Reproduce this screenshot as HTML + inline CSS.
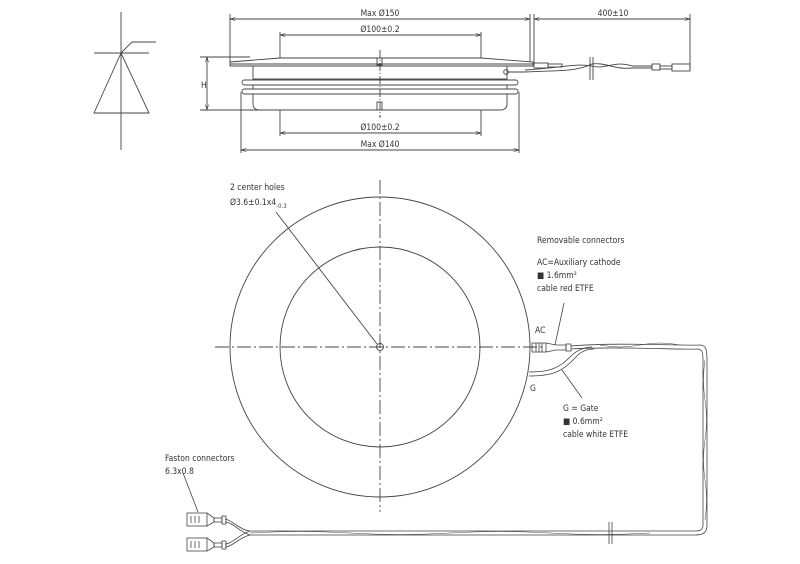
<!DOCTYPE html>
<html><head><meta charset="utf-8"><style>
html,body{margin:0;padding:0;background:#fff;}
svg{display:block;}
text{font-family:"DejaVu Sans Condensed","Liberation Sans",sans-serif;font-size:8.5px;fill:#333;}
</style></head><body>
<svg width="800" height="564" viewBox="0 0 800 564" xmlns="http://www.w3.org/2000/svg">
<defs>
<marker id="a" viewBox="0 0 10 10" refX="10" refY="5" markerWidth="8" markerHeight="6" orient="auto-start-reverse"><path d="M0,2 L10,5 L0,8" fill="none" stroke="#333" stroke-width="1"/></marker>
</defs>
<g stroke="#444" stroke-width="0.9" fill="none">
<!-- diode -->
<line x1="121" y1="12" x2="121" y2="150"/>
<line x1="94" y1="53" x2="149" y2="53"/>
<polygon points="121,53 94,113 149,113"/>
<polyline points="121,53 132,42 156,42"/>

<!-- top dims -->
<line x1="230" y1="19" x2="530" y2="19" marker-start="url(#a)" marker-end="url(#a)"/>
<line x1="230" y1="14" x2="230" y2="62"/>
<line x1="530" y1="14" x2="530" y2="62"/>
<line x1="534" y1="19" x2="690" y2="19" marker-start="url(#a)" marker-end="url(#a)"/>
<line x1="534" y1="14" x2="534" y2="64"/>
<line x1="690" y1="14" x2="690" y2="70"/>
<line x1="280" y1="35" x2="481" y2="35" marker-start="url(#a)" marker-end="url(#a)"/>
<line x1="280" y1="32" x2="280" y2="58"/>
<line x1="481" y1="32" x2="481" y2="58"/>
<line x1="280" y1="133" x2="481" y2="133" marker-start="url(#a)" marker-end="url(#a)"/>
<line x1="280" y1="110" x2="280" y2="136"/>
<line x1="481" y1="110" x2="481" y2="136"/>
<line x1="241" y1="150" x2="519" y2="150" marker-start="url(#a)" marker-end="url(#a)"/>
<line x1="241" y1="92" x2="241" y2="153"/>
<line x1="519" y1="92" x2="519" y2="153"/>
<line x1="207" y1="57" x2="207" y2="110" marker-start="url(#a)" marker-end="url(#a)"/>
<line x1="200" y1="57" x2="250" y2="57"/>
<line x1="200" y1="110" x2="262" y2="110"/>

<!-- side body -->
<path d="M230,62 L280,58 L481,58 L533,62 L533,66 L230,66 Z"/>
<line x1="230" y1="64" x2="533" y2="64"/>
<rect x="253" y="66" width="254" height="13"/>
<rect x="242" y="80" width="276" height="5" rx="2.5"/>
<line x1="253" y1="85" x2="253" y2="89"/><line x1="507" y1="85" x2="507" y2="89"/>
<rect x="242" y="89" width="276" height="5" rx="2.5"/>
<path d="M253,94 L507,94 L507,104 Q507,110 500,110 L260,110 Q253,110 253,104 Z"/>
<line x1="380" y1="50" x2="380" y2="118" stroke-dasharray="8,2,1,2"/>
<rect x="377" y="58" width="5" height="7"/><rect x="377" y="102" width="5" height="8"/>
<!-- top cable -->
<rect x="534" y="63" width="14" height="5"/><rect x="548" y="64" width="14" height="3"/>
<circle cx="506" cy="72" r="2.3"/><line x1="508" y1="72" x2="525" y2="72"/>
<path d="M525,70 C560,68 575,63 592,66 C605,70 615,60 632,66 L652,66"/>
<path d="M525,72 C560,70 575,72 592,64 C605,62 615,70 632,68 L652,68"/>
<line x1="590" y1="57" x2="590" y2="80"/><line x1="593" y1="57" x2="593" y2="80"/>
<rect x="652" y="64" width="8" height="6"/><rect x="660" y="66" width="12" height="3"/><rect x="672" y="64" width="18" height="7"/>

<!-- plan view -->
<circle cx="380" cy="347" r="150"/>
<circle cx="380" cy="347" r="100"/>
<circle cx="380" cy="347" r="3.5"/>
<line x1="215" y1="347" x2="545" y2="347" stroke-dasharray="14,3,2,3"/>
<line x1="380" y1="180" x2="380" y2="512" stroke-dasharray="14,3,2,3"/>
<line x1="276" y1="212" x2="377" y2="344"/>

<!-- connectors right -->
<g stroke-width="0.8">
<rect x="532" y="343" width="14" height="9"/>
<line x1="536" y1="343" x2="536" y2="352"/><line x1="539" y1="343" x2="539" y2="352"/><line x1="542" y1="343" x2="542" y2="352"/>
<path d="M546,343 L556,345 L566,345 L566,350 L556,350 L546,352"/>
<rect x="566" y="344" width="5" height="7"/>
<path d="M571,346 C620,342 680,346 700,345 C706,345 707,350 707,360 L707,525 C707,533 703,535 695,535 L250,535"/>
<path d="M571,349 C620,346 680,350 697,349 C702,349 703,352 703,360 L703,525 C703,530 700,531 695,531 L250,531"/>
<path d="M529,372 C550,372 560,368 572,355 C578,350 585,347 592,347"/>
<path d="M529,376 C552,376 562,372 575,358 C580,352 586,349 594,349"/>
<path d="M600,345 Q620,349 640,345 T680,345" stroke-width="0.5"/>
<path d="M705,360 Q702,380 705,400 T705,440 T705,480 T705,520" stroke-width="0.5"/>
<path d="M250,533 Q300,530 350,533 T450,533 T550,533 T650,533" stroke-width="0.5"/>
<line x1="609" y1="522" x2="609" y2="544"/><line x1="612" y1="522" x2="612" y2="544"/>
<line x1="564" y1="303" x2="555" y2="345"/>
<line x1="582" y1="398" x2="562" y2="370"/>
<!-- left fan -->
<path d="M250,531 C240,530 232,520 225,519"/><path d="M250,535 C240,532 232,522 225,522"/>
<path d="M250,531 C240,534 232,544 225,544"/><path d="M250,535 C240,537 232,547 225,547"/>
<rect x="187" y="513" width="20" height="13"/><path d="M207,513 L214,518 L214,522 L207,526"/>
<rect x="214" y="518" width="8" height="4"/><rect x="222" y="516" width="4" height="8"/>
<line x1="191" y1="516" x2="191" y2="523"/><line x1="195" y1="516" x2="195" y2="523"/><line x1="199" y1="516" x2="199" y2="523"/>
<rect x="187" y="538" width="20" height="13"/><path d="M207,538 L214,543 L214,547 L207,551"/>
<rect x="214" y="543" width="8" height="4"/><rect x="222" y="541" width="4" height="8"/>
<line x1="191" y1="541" x2="191" y2="548"/><line x1="195" y1="541" x2="195" y2="548"/><line x1="199" y1="541" x2="199" y2="548"/>
<line x1="183" y1="473" x2="198" y2="512"/>
</g>
</g>
<text x="380" y="16" text-anchor="middle">Max Ø150</text>
<text x="613" y="16" text-anchor="middle">400±10</text>
<text x="380" y="32" text-anchor="middle">Ø100±0.2</text>
<text x="380" y="130" text-anchor="middle">Ø100±0.2</text>
<text x="380" y="147" text-anchor="middle">Max Ø140</text>
<text x="201" y="88">H</text>
<text x="230" y="190">2 center holes</text>
<text x="230" y="205">Ø3.6±0.1x4<tspan font-size="6" dy="3">-0.3</tspan></text>
<text x="537" y="243">Removable connectors</text>
<text x="537" y="265">AC=Auxiliary cathode</text>
<text x="537" y="278">■ 1.6mm²</text>
<text x="537" y="291">cable red ETFE</text>
<text x="535" y="333">AC</text>
<text x="530" y="391">G</text>
<text x="563" y="411">G = Gate</text>
<text x="563" y="424">■ 0.6mm²</text>
<text x="563" y="437">cable white ETFE</text>
<text x="165" y="461">Faston connectors</text>
<text x="165" y="474">6.3x0.8</text>
</svg>
</body></html>
